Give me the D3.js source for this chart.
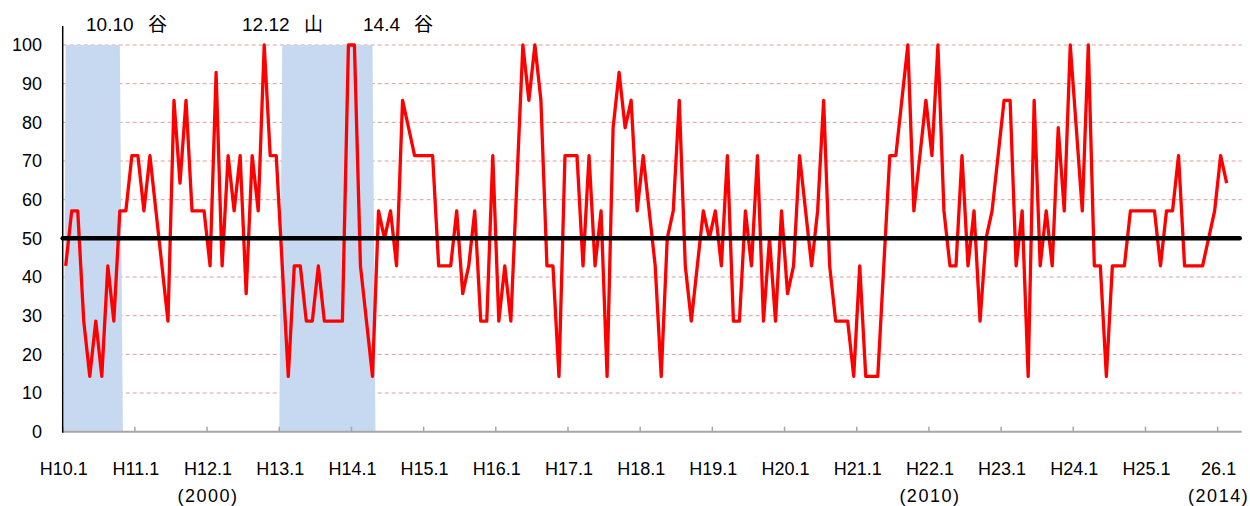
<!DOCTYPE html>
<html>
<head>
<meta charset="utf-8">
<script src="https://cdn.jsdelivr.net/npm/d3@7"></script>
<style>
  body { margin: 0; background: #fff; }
  text { font-family: "Liberation Sans", "Noto Sans CJK JP", sans-serif; fill: #000; }
</style>
</head>
<body>
<script>
// monthly DI, H10.1 (1998.1) .. H26.2 (2014.2)
const values = [
  42.9, 57.1, 57.1, 28.6, 14.3, 28.6, 14.3, 42.9, 28.6, 57.1, 57.1, 71.4,
  71.4, 57.1, 71.4, 57.1, 42.9, 28.6, 85.7, 64.3, 85.7, 57.1, 57.1, 57.1,
  42.9, 92.9, 42.9, 71.4, 57.1, 71.4, 35.7, 71.4, 57.1, 100, 71.4, 71.4,
  42.9, 14.3, 42.9, 42.9, 28.6, 28.6, 42.9, 28.6, 28.6, 28.6, 28.6, 100,
  100, 42.9, 28.6, 14.3, 57.1, 50, 57.1, 42.9, 85.7, 78.6, 71.4, 71.4,
  71.4, 71.4, 42.9, 42.9, 42.9, 57.1, 35.7, 42.9, 57.1, 28.6, 28.6, 71.4,
  28.6, 42.9, 28.6, 64.3, 100, 85.7, 100, 85.7, 42.9, 42.9, 14.3, 71.4,
  71.4, 71.4, 42.9, 71.4, 42.9, 57.1, 14.3, 78.6, 92.9, 78.6, 85.7, 57.1,
  71.4, 57.1, 42.9, 14.3, 50, 57.1, 85.7, 42.9, 28.6, 42.9, 57.1, 50,
  57.1, 42.9, 71.4, 28.6, 28.6, 57.1, 42.9, 71.4, 28.6, 50, 28.6, 57.1,
  35.7, 42.9, 71.4, 57.1, 42.9, 57.1, 85.7, 42.9, 28.6, 28.6, 28.6, 14.3,
  42.9, 14.3, 14.3, 14.3, 42.9, 71.4, 71.4, 85.7, 100, 57.1, 71.4, 85.7,
  71.4, 100, 57.1, 42.9, 42.9, 71.4, 42.9, 57.1, 28.6, 50, 57.1, 71.4,
  85.7, 85.7, 42.9, 57.1, 14.3, 85.7, 42.9, 57.1, 42.9, 78.6, 57.1, 100,
  78.6, 57.1, 100, 42.9, 42.9, 14.3, 42.9, 42.9, 42.9, 57.1, 57.1, 57.1,
  57.1, 57.1, 42.9, 57.1, 57.1, 71.4, 42.9, 42.9, 42.9, 42.9, 50, 57.1,
  71.4, 64.3
];

const years = d3.range(10, 27);          // H10 .. H26
const months = [];
years.forEach(yr => d3.range(1, 13).forEach(m => months.push('H' + yr + '.' + m)));
const categories = months.slice(0, 196);  // axis runs to H26.4

const tickLabels = ['H10.1', 'H11.1', 'H12.1', 'H13.1', 'H14.1', 'H15.1', 'H16.1', 'H17.1', 'H18.1',
  'H19.1', 'H20.1', 'H21.1', 'H22.1', 'H23.1', 'H24.1', 'H25.1', '26.1'];
const tickMonths = ['H10.1', 'H11.1', 'H12.1', 'H13.1', 'H14.1', 'H15.1', 'H16.1', 'H17.1', 'H18.1',
  'H19.1', 'H20.1', 'H21.1', 'H22.1', 'H23.1', 'H24.1', 'H25.1', 'H26.1'];
const yearNotes = [['H12.1', '(2000)'], ['H22.1', '(2010)'], ['H26.1', '(2014)']];

// recession shading (after peak .. trough)
const shades = [['H10.1', 'H10.10'], ['H13.1', 'H14.4']];
const turningPoints = [['10.10', '谷'], ['12.12', '山'], ['14.4', '谷']];
const yTicks = d3.range(0, 101, 10);

const w = 1250, h = 506;
const mLeft = 62.7, mRight = 1241.7, mTop = 45, mBottom = 431.7;

const svg = d3.select('body').append('svg')
  .attr('width', w)
  .attr('height', h);

const x = d3.scaleBand()
  .domain(categories)
  .range([mLeft, mRight]);
const cx = m => x(m) + x.bandwidth() / 2;

const y = d3.scaleLinear()
  .domain([0, 100])
  .range([mBottom, mTop]);

// gridlines
svg.append('g')
  .selectAll('line')
  .data(yTicks.filter(d => d > 0))
  .enter()
  .append('line')
  .attr('x1', mLeft)
  .attr('x2', mRight)
  .attr('y1', d => y(d))
  .attr('y2', d => y(d))
  .attr('stroke', '#dc9f9d')
  .attr('stroke-width', 1)
  .attr('stroke-dasharray', '4,3');

// shaded periods
svg.append('g')
  .selectAll('path')
  .data(shades)
  .enter()
  .append('path')
  .attr('fill', '#c6d9f1')
  .attr('d', d => {
    const a = d[0], b = d[1];
    return 'M' + cx(a) + ',' + y(100) + 'L' + cx(b) + ',' + y(100) +
      'L' + (x(b) + x.bandwidth()) + ',' + y(0) + 'L' + Math.max(x(a), mLeft + 1) + ',' + y(0) + 'Z';
  });

// y axis labels
svg.append('g')
  .selectAll('text')
  .data(yTicks)
  .enter()
  .append('text')
  .text(d => d)
  .attr('x', 42)
  .attr('y', d => y(d))
  .attr('dy', '0.35em')
  .attr('text-anchor', 'end')
  .attr('font-size', '18px');

// axes lines
svg.append('line')
  .attr('x1', mLeft).attr('x2', mRight)
  .attr('y1', mBottom).attr('y2', mBottom)
  .attr('stroke', '#a6a6a6')
  .attr('stroke-width', 2);

svg.append('g')
  .selectAll('line')
  .data(tickMonths)
  .enter()
  .append('line')
  .attr('x1', d => x(d)).attr('x2', d => x(d))
  .attr('y1', mBottom).attr('y2', mBottom - 5)
  .attr('stroke', '#a6a6a6')
  .attr('stroke-width', 1.5);

svg.append('line')
  .attr('x1', mLeft).attr('x2', mLeft)
  .attr('y1', 26).attr('y2', mBottom + 1)
  .attr('stroke', '#000')
  .attr('stroke-width', 1.5);

// x labels
svg.append('g')
  .selectAll('text')
  .data(tickMonths)
  .enter()
  .append('text')
  .text((d, i) => tickLabels[i])
  .attr('x', d => x(d) + 1)
  .attr('y', 475)
  .attr('text-anchor', 'middle')
  .attr('font-size', '18px');

svg.append('g')
  .selectAll('text')
  .data(yearNotes)
  .enter()
  .append('text')
  .text(d => d[1])
  .attr('x', d => x(d[0]) + 1)
  .attr('y', 502)
  .attr('text-anchor', 'middle')
  .attr('letter-spacing', '1.5px')
  .attr('font-size', '18px');

// turning point labels
const tpX = [[86, 148], [242, 304], [363, 414]];
turningPoints.forEach((d, i) => {
  svg.append('text')
    .text(d[0])
    .attr('x', tpX[i][0])
    .attr('y', 31)
    .attr('font-size', '19px');
  svg.append('text')
    .text(d[1])
    .attr('x', tpX[i][1])
    .attr('y', 31)
    .attr('font-size', '19px');
});

// DI line
const line = d3.line()
  .x((d, i) => cx(categories[i]))
  .y(d => y(d));

svg.append('path')
  .datum(values)
  .attr('fill', 'none')
  .attr('stroke', '#ff0000')
  .attr('stroke-width', 3.3)
  .attr('stroke-linejoin', 'round')
  .attr('d', line);

// 50 line
svg.append('line')
  .attr('x1', mLeft).attr('x2', mRight - 2)
  .attr('y1', y(50)).attr('y2', y(50))
  .attr('stroke', '#000')
  .attr('stroke-width', 4.5)
  .attr('stroke-linecap', 'round');
</script>
</body>
</html>
